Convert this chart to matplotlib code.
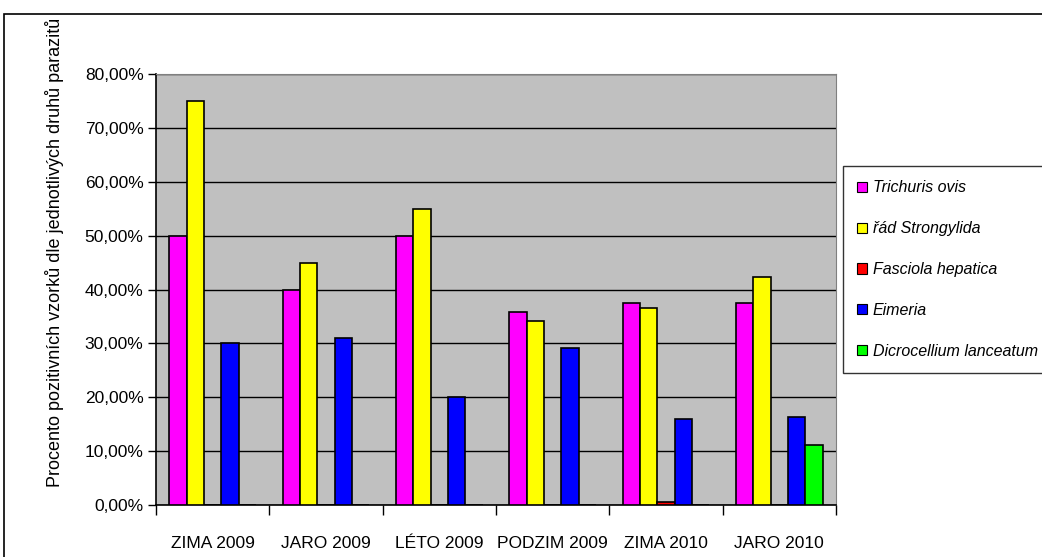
import numpy as np
import matplotlib.pyplot as plt
from matplotlib.patches import Patch, Rectangle
from matplotlib.ticker import FuncFormatter, MultipleLocator

seasons = ['ZIMA 2009', 'JARO 2009', 'LÉTO 2009', 'PODZIM 2009', 'ZIMA 2010', 'JARO 2010']
parasites = ['Trichuris ovis', 'řád Strongylida', 'Fasciola hepatica', 'Eimeria',
             'Dicrocellium lanceatum']
colors = ['#FF00FF', '#FFFF00', '#FF0000', '#0000FF', '#00FF00']

# percent of positive samples per season
trichuris = [50.0, 40.0, 50.0, 35.8, 37.5, 37.5]
strongylida = [75.0, 45.0, 55.0, 34.1, 36.5, 42.4]
fasciola = [0.0, 0.0, 0.0, 0.0, 0.6, 0.0]
eimeria = [30.0, 31.0, 20.0, 29.2, 16.0, 16.3]
dicrocoelium = [0.0, 0.0, 0.0, 0.0, 0.0, 11.1]
series = [trichuris, strongylida, fasciola, eimeria, dicrocoelium]

narrow = ['Liberation Sans Narrow', 'Liberation Sans', 'DejaVu Sans']

fig = plt.figure(figsize=(10.42, 5.57), dpi=100)
ax = fig.add_axes([156 / 1042, 52 / 557, 680 / 1042, 431 / 557])
ax.set_facecolor('#C0C0C0')

x = np.arange(len(seasons))
w = 1 / 6.55
start = (1 - 5 * w) / 2
for k, (vals, col) in enumerate(zip(series, colors)):
    ax.bar(x + start + k * w, vals, width=w, align='edge', color=col,
           edgecolor='black', linewidth=1.2, zorder=3)

ax.set_xlim(0, len(seasons))
ax.set_ylim(0, 80)
ax.yaxis.set_major_locator(MultipleLocator(10))
ax.yaxis.set_major_formatter(FuncFormatter(lambda v, p: f'{v:.2f}'.replace('.', ',') + '%'))
ax.grid(axis='y', color='black', linewidth=1.0, zorder=1)

# ticks at category boundaries, labels in the middle
ax.set_xticks(np.arange(len(seasons) + 1))
ax.set_xticklabels([])
ax.set_xticks(x + 0.5, minor=True)
ax.set_xticklabels(seasons, minor=True)
ax.tick_params(axis='x', which='major', direction='out', length=7, width=1)
ax.tick_params(axis='x', which='minor', length=0, pad=22)
ax.tick_params(axis='y', direction='out', length=6, width=1, pad=3)
for lab in ax.get_xticklabels(minor=True) + ax.get_yticklabels():
    lab.set_family(narrow)
    lab.set_fontsize(12.5)

for side in ['top', 'right']:
    ax.spines[side].set_color('#808080')
for side in ['left', 'bottom']:
    ax.spines[side].set_color('black')
    ax.spines[side].set_linewidth(1.2)

fig.text(55 / 1042, 1 - 252 / 557,
         'Procento pozitivních vzorků dle jednotlivých druhů parazitů',
         rotation=90, ha='center', va='center', fontsize=13, family=narrow)

handles = [Patch(facecolor=c, edgecolor='black', linewidth=0.8) for c in colors]
leg = fig.legend(handles, parasites, loc='upper left',
                 bbox_to_anchor=(843 / 1042, 1 - 166 / 557),
                 prop={'style': 'italic', 'size': 11.5, 'family': narrow},
                 handlelength=0.6, handleheight=0.6, handletextpad=0.35,
                 labelspacing=1.62, borderpad=0.9, borderaxespad=0,
                 fancybox=False, framealpha=1, edgecolor='#333333')
leg.get_frame().set_linewidth(1.0)

# outer chart frame
fig.patches.append(Rectangle((4 / 1042, -0.1), 1.1, 1 - 14 / 557 + 0.1,
                             transform=fig.transFigure, fill=False,
                             edgecolor='black', linewidth=1.2))

fig.savefig('out.png', dpi=100)
